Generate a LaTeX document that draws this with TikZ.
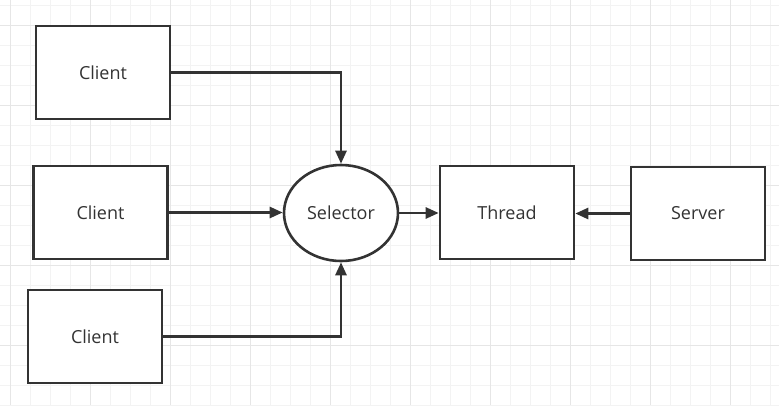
\documentclass[tikz,border=0pt]{standalone}
\usepackage{fontspec}
\setmainfont{Open Sans}
\usetikzlibrary{arrows.meta, shapes.geometric}

\definecolor{ink}{HTML}{333333}
\definecolor{gridminor}{HTML}{F3F3F3}
\definecolor{gridmajor}{HTML}{E6E6E6}

\begin{document}
\begin{tikzpicture}[x=1pt, y=-1pt,
      every node/.style = {draw=ink, line width=2.6pt, fill=white,
        font=\fontsize{18}{21}\selectfont, text=ink, inner sep=0pt},
      box/.style = {shape=rectangle, minimum width=134pt, minimum height=93pt},
      oval/.style = {shape=ellipse, minimum width=114pt, minimum height=96pt},
      link/.style = {draw=ink, line width=2.6pt, -{Triangle[length=13pt, width=11pt]}}]
  \useasboundingbox (0,0) rectangle (779,405);
  % background grid
  \foreach \gx in {10,30,...,770}
    \draw[gridminor, line width=1pt] (\gx,0) -- (\gx,405);
  \foreach \gy in {5,25,...,405}
    \draw[gridminor, line width=1pt] (0,\gy) -- (779,\gy);
  \foreach \gx in {10,90,...,770}
    \draw[gridmajor, line width=1pt] (\gx,0) -- (\gx,405);
  \foreach \gy in {25,105,...,405}
    \draw[gridmajor, line width=1pt] (0,\gy) -- (779,\gy);
  % nodes
  \node[box] (client1) at (103,72.5) {Client};
  \node[box] (client2) at (100.5,212.5) {Client};
  \node[box] (client3) at (95,336.5) {Client};
  \node[oval] (selector) at (341,213) {Selector};
  \node[box] (thread) at (507,212.5) {Thread};
  \node[box] (server) at (698,213.5) {Server};
  % connectors
  \draw[link] (client1.east) -| (selector.north);
  \draw[link] (client2.east) -- (client2.east -| selector.west);
  \draw[link] (client3.east) -| (selector.south);
  \draw[link] (selector.east) -- (selector.east -| thread.west);
  \draw[link] (server.west) -- (server.west -| thread.east);
\end{tikzpicture}
\end{document}
